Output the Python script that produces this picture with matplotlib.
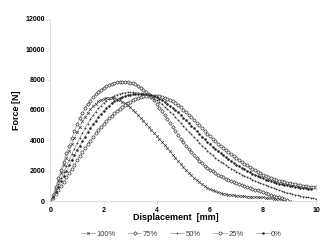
import matplotlib
matplotlib.use("Agg")
import matplotlib.pyplot as plt

plt.rcParams.update({
    "font.family": "Liberation Sans",
    "font.size": 5,
})

# displacement samples [mm]
DISP = [0.0, 0.1, 0.2, 0.3, 0.4, 0.5, 0.6, 0.7, 0.8, 0.9,
        1.0, 1.1, 1.2, 1.3, 1.4, 1.5, 1.6, 1.7, 1.8, 1.9,
        2.0, 2.1, 2.2, 2.3, 2.4, 2.5, 2.6, 2.7, 2.8, 2.9,
        3.0, 3.1, 3.2, 3.3, 3.4, 3.5, 3.6, 3.7, 3.8, 3.9,
        4.0, 4.1, 4.2, 4.3, 4.4, 4.5, 4.6, 4.7, 4.8, 4.9,
        5.0, 5.1, 5.2, 5.3, 5.4, 5.5, 5.6, 5.7, 5.8, 5.9,
        6.0, 6.1, 6.2, 6.3, 6.4, 6.5, 6.6, 6.7, 6.8, 6.9,
        7.0, 7.1, 7.2, 7.3, 7.4, 7.5, 7.6, 7.7, 7.8, 7.9,
        8.0, 8.1, 8.2, 8.3, 8.4, 8.5, 8.6, 8.7, 8.8, 8.9,
        9.0, 9.1, 9.2, 9.3, 9.4, 9.5, 9.6, 9.7, 9.8, 9.9, 10.0]

# force [N] for each series
force_100 = [0, 350, 850, 1350, 1850, 2350, 2850, 3300, 3750, 4150,
             4550, 4900, 5250, 5550, 5820, 6050, 6250, 6420, 6560, 6670,
             6740, 6790, 6800, 6790, 6760, 6710, 6640, 6550, 6440, 6310,
             6170, 6010, 5840, 5660, 5470, 5280, 5080, 4880, 4680, 4480,
             4280, 4080, 3880, 3680, 3480, 3270, 3060, 2850, 2640, 2430,
             2230, 2040, 1860, 1690, 1530, 1380, 1240, 1110, 990, 880,
             790, 710, 640, 580, 530, 490, 455, 425, 400, 380,
             360, 345, 330, 315, 300, 290, 280, 270, 260, 250,
             240, 225, 210, 190, 170, 150, 125, 100, 70, 40, 10]

force_75 = [0, 400, 950, 1500, 2050, 2600, 3150, 3650, 4150, 4600,
            5050, 5450, 5800, 6100, 6380, 6620, 6840, 7030, 7200, 7350,
            7470, 7580, 7670, 7740, 7790, 7825, 7845, 7855, 7855, 7840,
            7805, 7750, 7680, 7590, 7480, 7350, 7200, 7030, 6840, 6630,
            6400, 6160, 5910, 5650, 5390, 5130, 4870, 4610, 4360, 4110,
            3870, 3640, 3420, 3210, 3010, 2820, 2650, 2490, 2340, 2200,
            2070, 1950, 1840, 1740, 1650, 1560, 1480, 1400, 1330, 1260,
            1190, 1120, 1060, 1000, 940, 880, 820, 760, 700, 640,
            580, 520, 460, 400, 340, 290, 240, 190, 140, 90]

force_50 = [0, 300, 700, 1100, 1500, 1900, 2300, 2700, 3080, 3450,
            3800, 4150, 4480, 4800, 5100, 5380, 5640, 5880, 6100, 6290,
            6460, 6610, 6740, 6850, 6940, 7010, 7070, 7110, 7140, 7155,
            7160, 7160, 7150, 7130, 7100, 7060, 7000, 6930, 6850, 6750,
            6640, 6510, 6370, 6220, 6060, 5890, 5710, 5530, 5340, 5150,
            4960, 4770, 4580, 4390, 4200, 4020, 3840, 3660, 3490, 3320,
            3160, 3010, 2870, 2730, 2600, 2480, 2360, 2250, 2140, 2040,
            1940, 1840, 1750, 1660, 1570, 1490, 1410, 1330, 1250, 1180,
            1110, 1040, 970, 900, 840, 780, 720, 660, 610, 560,
            510, 460, 420, 380, 340, 300, 270, 240, 210, 180, 150]

force_25 = [0, 200, 450, 720, 1000, 1280, 1560, 1840, 2120, 2400,
            2680, 2950, 3220, 3480, 3740, 3990, 4230, 4460, 4680, 4890,
            5090, 5280, 5460, 5630, 5790, 5940, 6080, 6210, 6330, 6440,
            6540, 6630, 6710, 6780, 6840, 6890, 6920, 6940, 6950, 6950,
            6940, 6910, 6870, 6820, 6750, 6670, 6570, 6450, 6320, 6180,
            6030, 5870, 5700, 5530, 5350, 5170, 4990, 4810, 4630, 4450,
            4280, 4110, 3950, 3790, 3640, 3490, 3350, 3210, 3080, 2950,
            2820, 2700, 2580, 2460, 2350, 2240, 2130, 2030, 1930, 1840,
            1750, 1670, 1590, 1520, 1460, 1400, 1350, 1300, 1260, 1220,
            1180, 1150, 1110, 1080, 1050, 1020, 990, 960, 940, 920, 900]

force_0 = [0, 250, 600, 950, 1300, 1650, 2000, 2350, 2700, 3030,
           3350, 3660, 3960, 4250, 4530, 4800, 5060, 5300, 5530, 5740,
           5940, 6120, 6290, 6440, 6570, 6680, 6770, 6850, 6910, 6960,
           7000, 7030, 7050, 7060, 7060, 7050, 7030, 7000, 6960, 6900,
           6830, 6750, 6650, 6540, 6420, 6290, 6150, 6000, 5840, 5670,
           5500, 5330, 5150, 4970, 4790, 4610, 4430, 4250, 4080, 3910,
           3750, 3590, 3440, 3290, 3150, 3010, 2880, 2750, 2630, 2510,
           2400, 2290, 2190, 2090, 1990, 1900, 1810, 1720, 1640, 1560,
           1490, 1420, 1360, 1300, 1250, 1200, 1150, 1110, 1070, 1030,
           1000, 970, 940, 910, 880, 860, 840, 820, 800]

labels = ["100%", "75%", "50%", "25%", "0%"]
series = [force_100, force_75, force_50, force_25, force_0]
markers = ["x", "D", "+", "o", "o"]
msizes = [1.8, 1.8, 2.1, 2.2, 1.3]
faces = ["none", "white", "none", "white", "#222222"]

fig = plt.figure(figsize=(3.3, 2.52), dpi=100)
ax = fig.add_axes([0.153, 0.202, 0.805, 0.723])

for lab, y, m, ms, fc in zip(labels, series, markers, msizes, faces):
    ax.plot(DISP[:len(y)], y, color="#8a8a8a", linewidth=0.45,
            marker=m, markersize=ms, markerfacecolor=fc,
            markeredgecolor="#383838", markeredgewidth=0.5, label=lab)

ax.set_xlim(0, 10)
ax.set_ylim(0, 12000)
ax.set_xticks([0, 2, 4, 6, 8, 10])
ax.set_yticks([0, 2000, 4000, 6000, 8000, 10000, 12000])
for lbl in ax.get_xticklabels() + ax.get_yticklabels():
    lbl.set_fontweight("bold")
ax.tick_params(length=2, width=0.5, color="#d9d9d9", pad=2, labelsize=5)

for s in ["top", "right"]:
    ax.spines[s].set_visible(False)
for s in ["left", "bottom"]:
    ax.spines[s].set_color("#d9d9d9")
    ax.spines[s].set_linewidth(0.6)

ax.set_xlabel("Displacement  [mm]", fontsize=6.5, fontweight="bold")
ax.xaxis.set_label_coords(0.47, -0.068, transform=ax.transAxes)
ax.set_ylabel("Force [N]", fontsize=6.5, fontweight="bold", labelpad=3)

fig.legend(loc="lower center", bbox_to_anchor=(0.55, 0.03), ncol=5,
           frameon=False, fontsize=5.5, handlelength=1.8, columnspacing=1.6,
           handletextpad=0.2, labelcolor="#404040")

fig.savefig("out.png", dpi=100)
